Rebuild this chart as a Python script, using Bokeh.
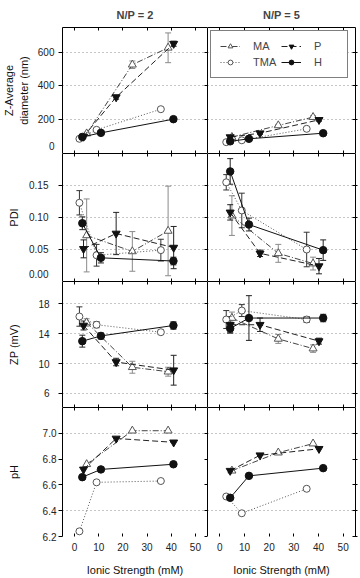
from bokeh.plotting import figure
from bokeh.layouts import gridplot
from bokeh.models import (LinearAxis, FixedTicker, Whisker, TeeHead, ColumnDataSource,
                          Legend, LegendItem, Range1d, PrintfTickFormatter)
from bokeh.embed import file_html
from bokeh.resources import INLINE

FONT = "Liberation Sans"

SERIES = ["MA", "TMA", "P", "H"]

# Ionic strength (mM) of each formulation
IONIC_NP2 = {"MA": [5.0, 23.9, 38.7], "TMA": [2.0, 9.1, 35.7], "P": [3.7, 17.2, 41.0], "H": [3.2, 10.9, 40.9]}
IONIC_NP5 = {"MA": [4.9, 23.7, 37.8], "TMA": [2.6, 8.9, 35.2], "P": [4.2, 16.3, 40.2], "H": [4.2, 11.8, 41.9]}

# Z-average diameter (nm)
ZAVG_NP2 = {"MA": [118, 525, 625], "TMA": [87, 140, 262], "P": [100, 333, 649], "H": [98, 122, 203]}
ZAVG_NP2_ERR = {"MA": [8, 22, 88], "TMA": [6, 6, 6], "P": [8, 12, 15], "H": [5, 5, 6]}
ZAVG_NP5 = {"MA": [97, 166, 215], "TMA": [67, 78, 146], "P": [97, 120, 199], "H": [72, 87, 120]}
ZAVG_NP5_ERR = {"MA": [6, 6, 8], "TMA": [5, 5, 6], "P": [6, 6, 8], "H": [5, 5, 5]}

# Polydispersity index
PDI_NP2 = {"MA": [0.072, 0.047, 0.079], "TMA": [0.123, 0.041, 0.049], "P": [0.051, 0.075, 0.053], "H": [0.091, 0.037, 0.032]}
PDI_NP2_ERR = {"MA": [0.057, 0.031, 0.070], "TMA": [0.019, 0.017, 0.017], "P": [0.014, 0.033, 0.033], "H": [0.010, 0.008, 0.006]}
PDI_NP5 = {"MA": [0.103, 0.044, 0.028], "TMA": [0.155, 0.111, 0.050], "P": [0.108, 0.044, 0.024], "H": [0.172, 0.089, 0.049]}
PDI_NP5_ERR = {"MA": [0.031, 0.014, 0.010], "TMA": [0.012, 0.027, 0.027], "P": [0.012, 0.005, 0.012], "H": [0.020, 0.010, 0.016]}

# Zeta potential (mV)
ZP_NP2 = {"MA": [15.5, 9.5, 8.9], "TMA": [16.3, 15.2, 14.2], "P": [15.1, 10.2, 9.1], "H": [13.0, 13.7, 15.1]}
ZP_NP2_ERR = {"MA": [0.5, 0.8, 0.6], "TMA": [1.3, 0.4, 0.3], "P": [0.6, 0.5, 2.0], "H": [0.8, 0.4, 0.5]}
ZP_NP5 = {"MA": [16.1, 13.3, 12.0], "TMA": [15.9, 17.1, 15.9], "P": [15.2, 15.2, 13.0], "H": [14.7, 16.1, 16.1]}
ZP_NP5_ERR = {"MA": [0.8, 0.6, 0.5], "TMA": [1.2, 0.8, 0.4], "P": [1.1, 0.9, 0.4], "H": [0.6, 3.0, 0.5]}

# pH
PH_NP2 = {"MA": [6.76, 7.02, 7.02], "TMA": [6.24, 6.62, 6.63], "P": [6.72, 6.96, 6.93], "H": [6.66, 6.72, 6.76]}
PH_NP5 = {"MA": [6.71, 6.85, 6.92], "TMA": [6.51, 6.38, 6.57], "P": [6.71, 6.83, 6.88], "H": [6.50, 6.67, 6.73]}

X_RANGE = (-5, 55)
X_TICKS = [0, 10, 20, 30, 40, 50]
COL_TITLES = ["N/P = 2", "N/P = 5"]

# the bottom tick label of a row that touches the row below is lifted
# onto its own line (with a tight line height) so it stays inside this row
ROWS = [
    dict(yr=(0, 745), ticks=[0, 200, 400, 600], grid=[200, 400, 600], fmt="%d",
         label="Z-Average\ndiameter (nm)", std=4, lstd=5, lift={0: "0\n "}, lh=0.15,
         data=[(ZAVG_NP2, ZAVG_NP2_ERR), (ZAVG_NP5, ZAVG_NP5_ERR)]),
    dict(yr=(0, 0.2), ticks=[0.0, 0.05, 0.10, 0.15], grid=[0.05, 0.10, 0.15], fmt="%.2f",
         label="PDI", std=10, lstd=6, lift={0: "0.00\n "}, lh=0.15,
         data=[(PDI_NP2, PDI_NP2_ERR), (PDI_NP5, PDI_NP5_ERR)]),
    dict(yr=(4.1, 21), ticks=[6, 10, 14, 18], grid=[6, 10, 14, 18], fmt="%d",
         label="ZP (mV)", std=9, lstd=15, lift={}, lh=1.2,
         data=[(ZP_NP2, ZP_NP2_ERR), (ZP_NP5, ZP_NP5_ERR)]),
    dict(yr=(6.2, 7.2), ticks=[6.2, 6.4, 6.6, 6.8, 7.0], grid=[6.4, 7.0], fmt="%.1f",
         label="pH", std=2, lstd=20, lift={}, lh=1.2,
         data=[(PH_NP2, None), (PH_NP5, None)]),
]
IONIC = [IONIC_NP2, IONIC_NP5]

FRAME_W = [149, 148]
FRAME_H = [126, 128, 126, 129]

STYLE = {
    "MA": dict(marker="triangle", size=8, fill="white", edge="#555555", line="#444444", dash="6 2 1 2", err="#8a8a8a"),
    "TMA": dict(marker="circle", size=7, fill="white", edge="#555555", line="#555555", dash="1 2", err="#333333"),
    "P": dict(marker="inverted_triangle", size=8, fill="#111111", edge="#111111", line="#222222", dash="6 3", err="#222222"),
    "H": dict(marker="circle", size=7.5, fill="#111111", edge="#111111", line="#111111", dash="solid", err="#222222"),
}


def style_axis(ax, ticks, tick_in, tick_out, line=True, labels=False):
    ax.ticker = FixedTicker(ticks=ticks)
    ax.minor_tick_line_color = None
    ax.major_tick_in = tick_in
    ax.major_tick_out = tick_out
    ax.major_tick_line_color = "black" if (tick_in or tick_out) else None
    ax.axis_line_color = "black" if line else None
    ax.major_label_text_font = FONT
    ax.major_label_text_font_size = "10px"
    ax.major_label_text_color = "#222222" if labels else None
    ax.axis_label_text_font = FONT
    ax.axis_label_text_font_size = "11px"
    ax.axis_label_text_font_style = "normal"
    ax.axis_label_text_color = "#111111"


def make_panel(ri, ci):
    row = ROWS[ri]
    left, top, bottom = ci == 0, ri == 0, ri == 3
    bl, br = (58, 0) if left else (0, 5)
    bt = 27 if top else 0
    bb = 42 if bottom else 0
    p = figure(width=FRAME_W[ci] + bl + br, height=FRAME_H[ri] + bt + bb,
               x_range=Range1d(*X_RANGE), y_range=Range1d(*row["yr"]),
               output_backend="svg", toolbar_location=None,
               title=COL_TITLES[ci] if top else None,
               min_border_left=bl, min_border_right=br, min_border_top=bt, min_border_bottom=bb)
    p.outline_line_color = None
    p.background_fill_color = "white"
    p.border_fill_color = "white"

    # grid: dotted horizontal lines only
    p.xgrid.visible = False
    p.ygrid.ticker = FixedTicker(ticks=row["grid"])
    p.ygrid.grid_line_color = "#8c8c8c"
    p.ygrid.grid_line_dash = "1 3"

    # bottom / left axes
    xa = p.xaxis[0]
    style_axis(xa, X_TICKS, 3, 0, line=not bottom, labels=bottom)
    if bottom:
        xa.axis_label = "Ionic Strength (mM)"
        xa.major_label_standoff = 6
        xa.axis_label_standoff = 10
    ya = p.yaxis[0]
    if left:
        style_axis(ya, row["ticks"], 0, 4, labels=True)
        ya.formatter = PrintfTickFormatter(format=row["fmt"])
        ya.major_label_overrides = row["lift"]
        ya.major_label_text_line_height = row["lh"]
        ya.axis_label = row["label"]
        ya.major_label_standoff = row["std"]
        ya.axis_label_standoff = row["lstd"]
    else:
        style_axis(ya, row["ticks"], 0, 0)

    # top / right axes (ticks only)
    ta = LinearAxis()
    style_axis(ta, X_TICKS, 3, 0)
    p.add_layout(ta, "above")
    ra = LinearAxis()
    if left:
        style_axis(ra, row["ticks"], 3, 0)
    else:
        style_axis(ra, row["ticks"], 3, 2)
    p.add_layout(ra, "right")

    if top:
        p.title.align = "center"
        p.title.text_font = FONT
        p.title.text_font_size = "11px"
        p.title.text_font_style = "bold"
        p.title.standoff = 13

    values, errors = row["data"][ci]
    xs_all = IONIC[ci]
    rends = {}
    for s in SERIES:
        st = STYLE[s]
        xs, ys = xs_all[s], values[s]
        if errors is not None:
            es = errors[s]
            src = ColumnDataSource(dict(x=xs, upper=[y + e for y, e in zip(ys, es)],
                                        lower=[y - e for y, e in zip(ys, es)]))
            p.add_layout(Whisker(source=src, base="x", upper="upper", lower="lower",
                                 line_color=st["err"], line_width=1, level="underlay",
                                 upper_head=TeeHead(size=6, line_color=st["err"], line_width=1),
                                 lower_head=TeeHead(size=6, line_color=st["err"], line_width=1)))
        lr = p.line(xs, ys, line_color=st["line"], line_dash=st["dash"], line_width=1)
        sr = p.scatter(xs, ys, marker=st["marker"], size=st["size"], fill_color=st["fill"],
                       line_color=st["edge"], line_width=1)
        rends[s] = (lr, sr)

    if top and not left:
        items = [LegendItem(label=s, renderers=list(rends[s])) for s in SERIES]
        legend = Legend(items=items, ncols=2, location="top_left", margin=3,
                        border_line_color="black", border_line_width=1,
                        label_text_font=FONT, label_text_font_size="11px",
                        glyph_width=20, glyph_height=12, label_height=12,
                        label_standoff=13, padding=9, spacing=4, label_width=24)
        p.add_layout(legend)
    return p


grid = [[make_panel(ri, ci) for ci in range(2)] for ri in range(4)]
layout = gridplot(grid, toolbar_location=None)

open("out.html", "w").write(file_html(layout, INLINE))
